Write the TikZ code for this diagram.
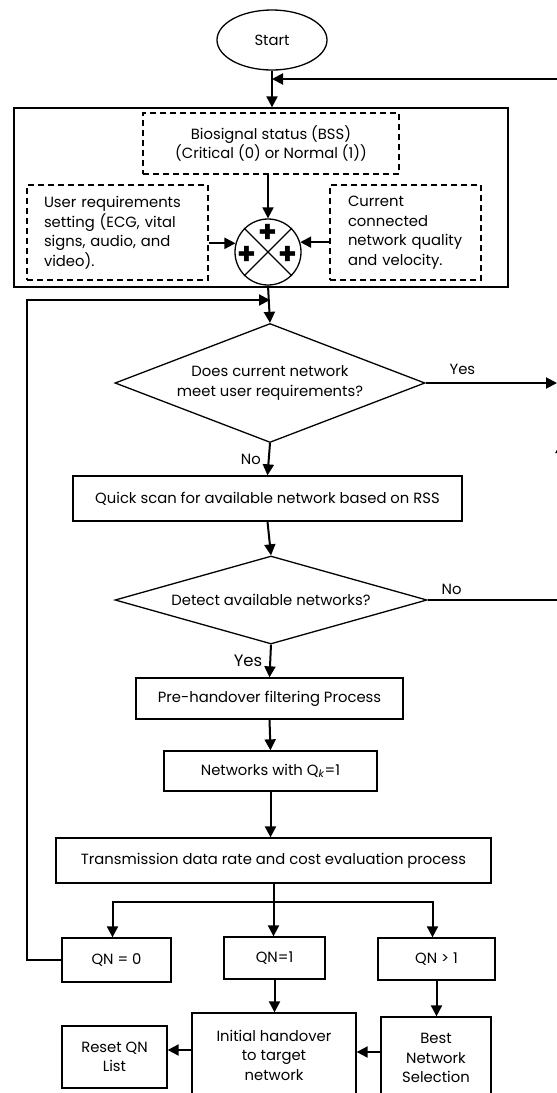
\documentclass[tikz,border=0pt]{standalone}
\usepackage{fontspec}
\setmainfont{Poppins}
\usepackage{tikz}
\usetikzlibrary{arrows.meta}
\usetikzlibrary{calc}
\usetikzlibrary{shapes.geometric}

\tikzset{
  box/.style={draw,line width=1.3pt,align=center,inner sep=0pt},
  dbox/.style={draw,line width=1.3pt,dash pattern=on 6pt off 4pt,inner sep=0pt},
  dec/.style={draw,diamond,aspect=2.6,line width=1.3pt,align=center,inner sep=0pt},
  conn/.style={line width=2pt,->},
  lbl/.style={inner sep=1pt},
  plus/.style={font=\fontsize{30}{30}\selectfont\bfseries,inner sep=0pt},
}

\begin{document}
\begin{tikzpicture}[x=1pt,y=-1pt,>={Triangle[length=11pt,width=11pt]},
    every node/.style={font=\fontsize{14.8}{19.5}\selectfont}]

	\useasboundingbox (0,0) rectangle (557,1093);
	\clip (0,0) rectangle (557,1093);

	% Start
	\node[draw,ellipse,line width=1.3pt,minimum width=110pt,minimum height=60pt] (start) at (272,40) {Start};

	% Input block
	\node[box,minimum width=494pt,minimum height=179pt] (outer) at (261,197.5) {};
	\node[dbox,minimum width=256pt,minimum height=61pt,align=center] (bss) at (271,143.5)
		{Biosignal status (BSS)\\(Critical (0) or Normal (1))};
	\node[dbox,text width=147pt,inner xsep=17pt,minimum height=95pt,align=left] (user) at (117.5,232.5)
		{User requirements\\setting (ECG, vital\\signs, audio, and\\video).};
	\node[dbox,text width=115pt,inner xsep=18pt,minimum height=95pt,align=left] (curr) at (405.5,232.5)
		{Current\\connected\\network quality\\and velocity.};

	% Summing junction
	\node[draw,circle,line width=1.3pt,minimum size=66pt,inner sep=0pt] (sum) at (268,252) {};
	\draw[line width=1.3pt] (sum.45) -- (sum.225) (sum.135) -- (sum.315);
	\node[plus] (plustop) at (268,233) {+};
	\node[plus] (plusleft) at (247,255) {+};
	\node[plus] (plusright) at (288,255) {+};

	% Decisions and processes
	\node[dec,minimum width=310pt,minimum height=119pt] (meet) at (270,383)
		{Does current network\\meet user requirements?};
	\node[box,minimum width=389pt,minimum height=45pt] (scan) at (267.5,498.5)
		{Quick scan for available network based on RSS};
	\node[dec,minimum width=312pt,minimum height=87pt] (detect) at (271,600)
		{Detect available networks?};
	\node[box,minimum width=267pt,minimum height=41pt] (pre) at (269.5,698.5)
		{Pre-handover filtering Process};
	\node[box,minimum width=213pt,minimum height=40pt] (netq) at (270.5,771)
		{Networks with Q\textsubscript{\textit{k}}=1};
	\node[box,minimum width=435pt,minimum height=45pt] (trans) at (273.5,860.5)
		{Transmission data rate and cost evaluation process};

	% Outcomes
	\node[box,minimum width=109pt,minimum height=44pt] (qn0) at (116.5,960) {QN = 0};
	\node[box,minimum width=101pt,minimum height=42pt] (qn1) at (274.5,958) {QN=1};
	\node[box,minimum width=117pt,minimum height=42pt] (qnmore) at (436.5,959) {QN > 1};
	\node[box,minimum width=164pt,minimum height=84pt] (init) at (274,1055)
		{Initial handover\\to target\\network};
	\node[box,minimum width=110pt,minimum height=82pt] (best) at (436,1058)
		{Best\\Network\\Selection};
	\node[box,minimum width=105pt,minimum height=62pt] (reset) at (114.5,1057)
		{Reset QN\\List};

	% Free ends and turning points
	\coordinate (backin) at (600,79);
	\coordinate (merge) at (270,300);
	\coordinate (yesend) at (557,383);
	\coordinate (noturn) at (561,600);
	\coordinate (noend) at (561,442);
	\coordinate (fork) at (273.5,902);

	% Connectors
	\draw[conn] (start.south) -- (start.south |- outer.north);
	\draw[conn] (backin) -- (start.south |- backin);
	\draw[conn] (bss.south -| sum.north) -- (sum.north);
	\draw[conn] (sum.165 -| user.east) -- (sum.165);
	\draw[conn] (sum.17 -| curr.west) -- (sum.17);
	\draw[conn] (sum.south) -- (meet.north);
	\draw[conn] (qn0.west) -- ++(-34,0) |- (merge);
	\draw[conn] (meet.east) -- (yesend) node[lbl,pos=0.28,above=6pt] (yes1) {Yes};
	\draw[conn] (meet.south) -- (scan.north) node[lbl,midway,left=6pt] (no1) {No};
	\draw[conn] (scan.south) -- (detect.north);
	\draw[conn] (detect.east) -- (noturn) -- (noend);
	\node[lbl,above=4pt] (no2) at ($(detect.east)!0.18!(noturn)$) {No};
	\draw[conn] (detect.south) -- (pre.north) node[lbl,midway,left=6pt,font=\fontsize{16.5}{18}\selectfont] (yes2) {Yes};
	\draw[conn] (pre.south) -- (netq.north);
	\draw[conn] (netq.south) -- (netq.south |- trans.north);
	\draw[conn] (trans.south) -- (trans.south |- qn1.north);
	\draw[conn] (fork) -| ([xshift=-4pt]qn0.north);
	\draw[conn] (fork) -| ([xshift=-4pt]qnmore.north);
	\draw[conn] (qn1.south) -- (qn1.south |- init.north);
	\draw[conn] (qnmore.south) -- (qnmore.south |- best.north);
	\draw[conn] ([yshift=6pt]best.west) -- ([yshift=6pt]best.west -| init.east);
	\draw[conn] ([yshift=5pt]init.west) -- ([yshift=5pt]init.west -| reset.east);

\end{tikzpicture}
\end{document}
